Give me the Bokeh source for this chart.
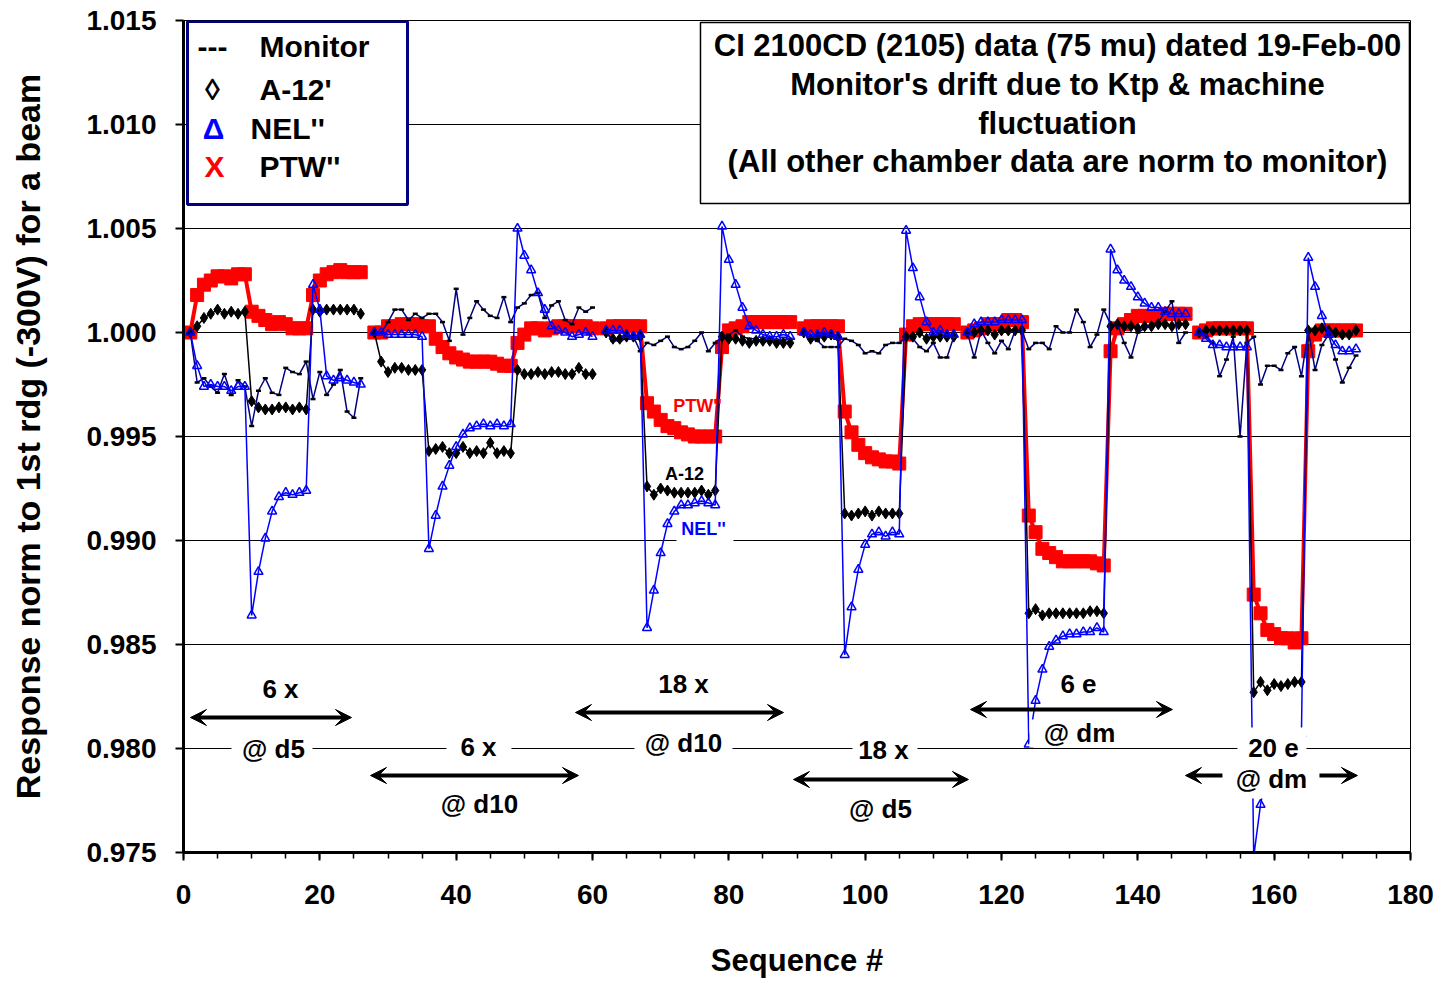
import math
from bokeh.plotting import figure
from bokeh.models import (ColumnDataSource, BoxAnnotation, Label, Arrow, VeeHead,
                          FixedTicker, NumeralTickFormatter, Range1d)
from bokeh.embed import file_html
from bokeh.resources import INLINE

# ---------------- data ----------------
seg_starts = [1, 28, 62, 91, 115, 149]

ptw_segs = [
    [1.0000, 1.0018, 1.0023, 1.0025, 1.0027, 1.0027, 1.0026, 1.0028, 1.0028, 1.0010, 1.0008, 1.0006, 1.0004,
     1.0005, 1.0004, 1.0002, 1.0002, 1.0002, 1.0018, 1.0025, 1.0028, 1.0029, 1.0030, 1.0029, 1.0029, 1.0029],
    [1.0000, 1.0000, 1.0003, 1.0003, 1.0004, 1.0004, 1.0004, 1.0003, 1.0003, 0.9997, 0.9993, 0.9990, 0.9988,
     0.9987, 0.9986, 0.9986, 0.9986, 0.9986, 0.9985, 0.9984, 0.9984, 0.9995, 0.9999, 1.0002, 1.0002, 1.0001,
     1.0002, 1.0003, 1.0003, 1.0003, 1.0003, 1.0003, 1.0002],
    [1.0002, 1.0003, 1.0003, 1.0003, 1.0003, 1.0003, 0.9966, 0.9962, 0.9958, 0.9955, 0.9954, 0.9952, 0.9951,
     0.9950, 0.9950, 0.9950, 0.9950, 0.9993, 1.0001, 1.0002, 1.0003, 1.0005, 1.0005, 1.0005, 1.0005, 1.0005,
     1.0005, 1.0005],
    [1.0002, 1.0003, 1.0003, 1.0003, 1.0003, 1.0003, 0.9962, 0.9952, 0.9946, 0.9942, 0.9940, 0.9939, 0.9938,
     0.9938, 0.9937, 0.9999, 1.0003, 1.0004, 1.0004, 1.0004, 1.0004, 1.0004, 1.0004],
    [1.0000, 1.0001, 1.0002, 1.0004, 1.0004, 1.0004, 1.0006, 1.0006, 1.0005, 0.9912, 0.9904, 0.9896, 0.9894,
     0.9892, 0.9890, 0.9890, 0.9890, 0.9890, 0.9890, 0.9889, 0.9888, 0.9991, 1.0002, 1.0004, 1.0006, 1.0008,
     1.0008, 1.0008, 1.0008, 1.0009, 1.0009, 1.0009, 1.0009],
    [1.0000, 1.0001, 1.0002, 1.0002, 1.0002, 1.0002, 1.0002, 1.0002, 0.9874, 0.9865, 0.9857, 0.9855, 0.9853,
     0.9853, 0.9851, 0.9853, 0.9991, 0.9999, 1.0001, 1.0001, 1.0001, 1.0001, 1.0001, 1.0001],
]

a12_segs = [
    [1.0000, 1.0003, 1.0007, 1.0009, 1.0011, 1.0009, 1.0010, 1.0009, 1.0010, 0.9967, 0.9964, 0.9963, 0.9963,
     0.9964, 0.9964, 0.9963, 0.9964, 0.9963, 1.0011, 1.0010, 1.0011, 1.0011, 1.0011, 1.0011, 1.0011, 1.0009],
    [1.0000, 0.9986, 0.9981, 0.9983, 0.9983, 0.9982, 0.9982, 0.9982, 0.9943, 0.9944, 0.9945, 0.9942, 0.9942,
     0.9945, 0.9942, 0.9943, 0.9942, 0.9947, 0.9942, 0.9943, 0.9942, 0.9982, 0.9980, 0.9980, 0.9981, 0.9980,
     0.9981, 0.9981, 0.9980, 0.9980, 0.9983, 0.9980, 0.9980],
    [1.0000, 0.9997, 0.9997, 0.9998, 0.9998, 0.9998, 0.9926, 0.9922, 0.9925, 0.9924, 0.9923, 0.9923, 0.9923,
     0.9923, 0.9924, 0.9922, 0.9924, 0.9998, 0.9997, 0.9997, 0.9996, 0.9995, 0.9996, 0.9996, 0.9996, 0.9995,
     0.9995, 0.9995],
    [1.0000, 0.9997, 0.9998, 0.9998, 0.9999, 0.9998, 0.9913, 0.9912, 0.9913, 0.9914, 0.9912, 0.9914, 0.9913,
     0.9913, 0.9913, 0.9998, 0.9998, 1.0000, 0.9997, 0.9998, 0.9998, 0.9998, 0.9998],
    [1.0000, 1.0000, 1.0001, 1.0001, 0.9999, 1.0001, 1.0001, 1.0001, 1.0001, 0.9865, 0.9867, 0.9864, 0.9865,
     0.9865, 0.9865, 0.9865, 0.9865, 0.9865, 0.9866, 0.9866, 0.9865, 1.0003, 1.0004, 1.0003, 1.0003, 1.0002,
     1.0003, 1.0003, 1.0004, 1.0004, 1.0003, 1.0004, 1.0004],
    [1.0000, 1.0001, 1.0001, 1.0001, 1.0001, 1.0001, 1.0001, 1.0001, 0.9827, 0.9832, 0.9828, 0.9831, 0.9830,
     0.9831, 0.9832, 0.9832, 1.0001, 1.0001, 1.0002, 1.0001, 1.0000, 0.9999, 0.9999, 1.0001],
]

nel_segs = [
    [1.0000, 0.9984, 0.9974, 0.9975, 0.9974, 0.9974, 0.9972, 0.9974, 0.9974, 0.9864, 0.9885, 0.9901, 0.9914,
     0.9921, 0.9923, 0.9922, 0.9923, 0.9924, 1.0023, 1.0011, 0.9979, 0.9977, 0.9978, 0.9977, 0.9976, 0.9975],
    [1.0000, 1.0000, 0.9999, 0.9999, 0.9999, 0.9999, 0.9999, 0.9998, 0.9896, 0.9912, 0.9926, 0.9936, 0.9945,
     0.9951, 0.9954, 0.9955, 0.9956, 0.9955, 0.9956, 0.9955, 0.9956, 1.0050, 1.0037, 1.0030, 1.0019, 1.0011,
     1.0003, 1.0001, 1.0000, 0.9998, 0.9999, 1.0000, 0.9998],
    [1.0001, 1.0001, 1.0001, 0.9999, 0.9998, 0.9999, 0.9858, 0.9876, 0.9894, 0.9908, 0.9914, 0.9917, 0.9917,
     0.9918, 0.9919, 0.9918, 0.9917, 1.0051, 1.0035, 1.0023, 1.0012, 1.0003, 1.0001, 0.9999, 0.9998, 0.9998,
     0.9999, 0.9998],
    [1.0000, 0.9999, 0.9999, 1.0000, 0.9999, 0.9998, 0.9845, 0.9868, 0.9886, 0.9898, 0.9903, 0.9904, 0.9902,
     0.9904, 0.9903, 1.0049, 1.0031, 1.0017, 1.0005, 1.0000, 1.0001, 0.9999, 0.9999],
    [1.0000, 1.0004, 1.0005, 1.0005, 1.0005, 1.0006, 1.0006, 1.0006, 1.0006, 0.9802, 0.9823, 0.9838, 0.9849,
     0.9852, 0.9854, 0.9855, 0.9855, 0.9856, 0.9856, 0.9858, 0.9856, 1.0040, 1.0030, 1.0025, 1.0022, 1.0017,
     1.0014, 1.0012, 1.0012, 1.0010, 1.0009, 1.0009, 1.0009],
    [1.0000, 0.9997, 0.9994, 0.9994, 0.9993, 0.9993, 0.9993, 0.9993, 0.9748, 0.9773, 0.9790, 0.9798, 0.9802,
     0.9804, 0.9806, 0.9807, 1.0036, 1.0022, 1.0008, 0.9999, 0.9994, 0.9991, 0.9991, 0.9992],
]

mon_segs = [
    [1.0000, 0.9976, 0.9978, 0.9974, 0.9971, 0.9980, 0.9970, 0.9977, 0.9974, 0.9955, 0.9972, 0.9978, 0.9971,
     0.9970, 0.9983, 0.9981, 0.9980, 0.9986, 0.9968, 0.9981, 0.9970, 0.9975, 0.9982, 0.9962, 0.9959, 0.9978],
    [1.0000, 1.0000, 1.0005, 1.0011, 1.0011, 1.0006, 1.0009, 1.0007, 1.0009, 1.0009, 1.0005, 0.9996, 1.0021,
     0.9999, 1.0007, 1.0015, 1.0011, 1.0008, 1.0007, 1.0017, 1.0005, 1.0012, 1.0014, 1.0018, 1.0019, 1.0007,
     1.0013, 1.0015, 1.0006, 1.0004, 1.0012, 1.0010, 1.0012],
    [1.0000, 0.9996, 0.9996, 0.9997, 0.9998, 0.9991, 0.9995, 0.9994, 0.9996, 0.9998, 0.9993, 0.9992, 0.9993,
     0.9996, 1.0000, 0.9991, 0.9995, 0.9998, 0.9999, 1.0001, 0.9998, 0.9997, 0.9997, 0.9996, 0.9997, 0.9996,
     0.9996, 0.9997],
    [1.0000, 0.9997, 0.9996, 0.9993, 0.9993, 0.9993, 0.9997, 0.9996, 0.9994, 0.9990, 0.9991, 0.9990, 0.9994,
     0.9995, 0.9995, 0.9998, 0.9997, 0.9993, 0.9991, 0.9995, 0.9988, 0.9988, 0.9998],
    [1.0000, 0.9988, 1.0001, 0.9995, 0.9990, 0.9996, 0.9992, 1.0001, 1.0001, 0.9992, 0.9995, 0.9995, 0.9992,
     1.0003, 1.0000, 1.0000, 1.0011, 1.0005, 0.9993, 0.9999, 1.0011, 1.0004, 1.0004, 0.9995, 0.9988, 1.0000,
     1.0002, 1.0004, 1.0005, 1.0010, 1.0015, 0.9995, 1.0000],
    [1.0000, 0.9998, 0.9995, 0.9979, 0.9987, 0.9998, 0.9950, 0.9995, 0.9998, 0.9975, 0.9984, 0.9984, 0.9982,
     0.9990, 0.9993, 0.9979, 1.0001, 0.9982, 0.9994, 0.9999, 0.9987, 0.9976, 0.9983, 0.9989],
]

y_ticks = [0.975, 0.980, 0.985, 0.990, 0.995, 1.000, 1.005, 1.010, 1.015]
x_ticks = [0, 20, 40, 60, 80, 100, 120, 140, 160, 180]

legend_rows = [("---", "Monitor", "black"), ("\u25CA", "A-12'", "black"),
               ("\u0394", "NEL''", "#0000FF"), ("X", "PTW''", "#FF0000")]
title_lines = ["CI 2100CD (2105) data (75 mu) dated 19-Feb-00",
               "Monitor's drift due to Ktp & machine",
               "fluctuation",
               "(All other chamber data are norm to monitor)"]


def assemble(segs):
    xs, ys = [], []
    for start, vals in zip(seg_starts, segs):
        xs += list(range(start, start + len(vals)))
        ys += vals
        xs.append(math.nan)
        ys.append(math.nan)
    return ColumnDataSource(dict(x=xs, y=ys))


FONT = "Liberation Sans"

p = figure(width=1440, height=981, output_backend="svg", toolbar_location=None,
           x_range=Range1d(0, 180), y_range=Range1d(0.975, 1.015),
           min_border_left=183, min_border_right=30, min_border_top=20, min_border_bottom=129)
p.background_fill_color = "white"
p.border_fill_color = "white"
p.outline_line_color = "black"
p.outline_line_width = 1

# axes
p.yaxis.ticker = FixedTicker(ticks=y_ticks)
p.yaxis.formatter = NumeralTickFormatter(format="0.000")
p.xaxis.ticker = FixedTicker(ticks=x_ticks, minor_ticks=list(range(0, 181, 5)))
for ax in (p.xaxis, p.yaxis):
    ax.axis_line_width = 3
    ax.axis_line_color = "black"
    ax.major_tick_line_color = "black"
    ax.major_tick_line_width = 2
    ax.major_tick_out = 8
    ax.major_tick_in = 0
    ax.major_label_text_font = FONT
    ax.major_label_text_font_style = "bold"
    ax.major_label_text_font_size = "28px"
    ax.major_label_text_color = "black"
    ax.axis_label_text_font = FONT
    ax.axis_label_text_font_style = "bold"
    ax.axis_label_text_color = "black"
p.yaxis.minor_tick_line_color = None
p.xaxis.minor_tick_line_color = "black"
p.xaxis.minor_tick_line_width = 1.5
p.xaxis.minor_tick_out = 6
p.xaxis.minor_tick_in = 0
p.yaxis.major_label_standoff = 19
p.xaxis.major_label_standoff = 24
p.yaxis.axis_label = "Response norm to 1st rdg (-300V) for a beam"
p.yaxis.axis_label_text_font_size = "34px"
p.yaxis.axis_label_standoff = 36
p.xaxis.axis_label = "Sequence #"
p.xaxis.axis_label_text_font_size = "31px"
p.xaxis.axis_label_standoff = 36

p.xgrid.grid_line_color = None
p.ygrid.grid_line_color = "black"
p.ygrid.grid_line_width = 1

# series
ptw = assemble(ptw_segs)
a12 = assemble(a12_segs)
nel = assemble(nel_segs)
mon = assemble(mon_segs)

p.line("x", "y", source=ptw, line_color="#FF0000", line_width=4)
p.scatter("x", "y", source=ptw, marker="square", size=13, fill_color="#FF0000", line_color="#FF0000")
p.line("x", "y", source=a12, line_color="black", line_width=1.5)
p.scatter("x", "y", source=a12, marker="diamond", size=11, fill_color="black", line_color="black")
p.line("x", "y", source=mon, line_color="#000080", line_width=1.5)
p.scatter("x", "y", source=mon, marker="dash", size=5, line_color="black", line_width=2.5)
p.line("x", "y", source=nel, line_color="#0000FF", line_width=1.5)
p.scatter("x", "y", source=nel, marker="triangle", size=9, fill_color=None, line_color="#0000FF",
          line_width=1.5)


# ---------------- annotations ----------------
def px2x(px):
    return (px - 183) / 6.817


def py2y(py):
    return 1.015 - (py - 20) / 20800.0


def wbox(x0, x1, y0, y1, line_color=None, line_width=0):
    b = BoxAnnotation(left=px2x(x0), right=px2x(x1), top=py2y(y0), bottom=py2y(y1),
                      fill_color="white", fill_alpha=1.0, line_color=line_color,
                      line_width=line_width, line_alpha=1.0 if line_color else 0.0)
    p.add_layout(b)


def lab(text, cx, cy, size, color="black", align="center"):
    p.add_layout(Label(x=px2x(cx), y=py2y(cy), text=text, text_align=align, text_baseline="middle",
                       text_font=FONT, text_font_style="bold", text_font_size=size, text_color=color))


# white boxes that mask lines under text labels
wbox(231, 312, 735, 761)
wbox(446, 511, 734, 758)
wbox(634, 732, 728, 756)
wbox(852, 917, 736, 762)
wbox(1029, 1129, 719, 747)
wbox(1237, 1306, 727, 798)
wbox(676, 733, 515, 542)

# legend box
wbox(187, 407, 21, 204, line_color="#000080", line_width=3)
legend_y = [46, 89, 128, 166]
sym_x = [212, 212, 213, 214]
txt_x = [259, 259, 250, 259]
for (sym, txt, col), yy, sx, tx in zip(legend_rows, legend_y, sym_x, txt_x):
    lab(sym, sx, yy, "30px", col)
    lab(txt, tx, yy, "30px", "black", align="left")

# title box
wbox(700, 1409, 22, 203, line_color="black", line_width=1.5)
for line, yy in zip(title_lines, [45, 84, 123, 161]):
    lab(line, 1057, yy, "31px")

# inline labels
lab("PTW''", 697, 405, "18px", "#FF0000")
lab("A-12", 684, 473, "18px", "black")
lab("NEL''", 703, 528, "18px", "#0000FF")

# beam labels
beam_labels = [("6 x", 280, 688), ("@ d5", 273, 748), ("6 x", 478, 746), ("@ d10", 479, 803),
               ("18 x", 683, 683), ("@ d10", 683, 742), ("18 x", 883, 749), ("@ d5", 880, 808),
               ("6 e", 1078, 683), ("@ dm", 1079, 732), ("20 e", 1273, 747), ("@ dm", 1271, 778)]
for t, cx, cy in beam_labels:
    lab(t, cx, cy, "26px")


def head():
    return VeeHead(size=16, fill_color="black", line_color="black", line_width=1)


double_arrows = [(190, 351, 717), (370, 578, 775), (575, 783, 712), (793, 968, 779), (970, 1172, 709)]
for x0, x1, yy in double_arrows:
    p.add_layout(Arrow(start=head(), end=head(), x_start=px2x(x0), x_end=px2x(x1),
                       y_start=py2y(yy), y_end=py2y(yy), line_width=4, line_color="black"))
single_arrows = [(1222, 1185, 775), (1319, 1357, 775)]
for x0, x1, yy in single_arrows:
    p.add_layout(Arrow(end=head(), x_start=px2x(x0), x_end=px2x(x1),
                       y_start=py2y(yy), y_end=py2y(yy), line_width=4, line_color="black"))

open("out.html", "w").write(file_html(p, INLINE))
